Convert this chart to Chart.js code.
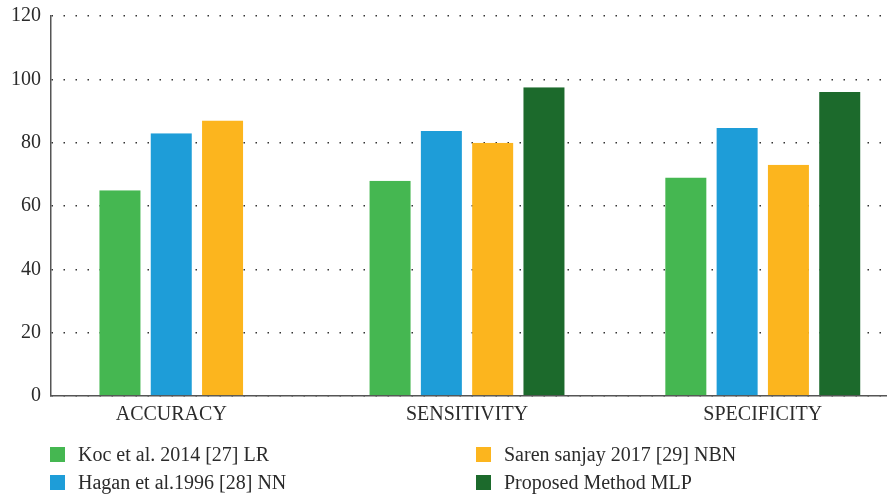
<!DOCTYPE html>
<html>
<head>
<meta charset="utf-8">
<script src="https://cdn.jsdelivr.net/npm/chart.js@4"></script>
<style>
  html, body { margin: 0; padding: 0; background: #ffffff; }
  #wrap { position: relative; width: 887px; height: 494px; }
  #c { position: absolute; left: 0; top: 0; }
  .leg { position: absolute; font-family: 'Liberation Serif', 'DejaVu Serif', serif; font-size: 20px; color: #2b2b2b; }
  .item { position: absolute; display: flex; align-items: center; height: 28px; white-space: nowrap; }
  .sw { width: 15px; height: 15px; margin-right: 13px; flex: none; }
</style>
</head>
<body>
<div id="wrap">
  <canvas id="c" width="887" height="494"></canvas>
  <div id="legend" class="leg"></div>
</div>
<script>
// ---- data ----
const categories = ['ACCURACY', 'SENSITIVITY', 'SPECIFICITY'];
const seriesNames = ['Koc et al. 2014 [27] LR', 'Hagan et al.1996 [28] NN', 'Saren sanjay 2017 [29] NBN', 'Proposed Method MLP'];
const kocLR = [65, 68, 69];
const haganNN = [83, 83.7, 84.6];
const sarenNBN = [87, 80, 73];
const proposedMLP = [null, 97.5, 96];
const yTicks = [0, 20, 40, 60, 80, 100, 120];

const colors = ['#45B751', '#1E9DD8', '#FCB51E', '#1C6A2C'];
const seriesValues = [kocLR, haganNN, sarenNBN, proposedMLP];

const FONT = "'Liberation Serif', 'DejaVu Serif', serif";

const datasets = seriesValues.map((vals, s) => ({
  label: seriesNames[s],
  data: vals.map((v, i) => ({ x: i, y: v })),
  backgroundColor: colors[s],
  borderColor: 'rgba(0,0,0,0)',
  borderWidth: { top: 0, bottom: 0, left: 5.15, right: 5.15 },
  borderSkipped: false,
  inflateAmount: 0,
  barThickness: 51.3,
  skipNull: true
}));

new Chart(document.getElementById('c'), {
  type: 'bar',
  data: { datasets },
  options: {
    responsive: false,
    animation: false,
    devicePixelRatio: 1,
    layout: { padding: { left: 0, right: 0, top: 16, bottom: 0 } },
    plugins: { legend: { display: false }, tooltip: { enabled: false } },
    scales: {
      x: {
        type: 'linear',
        bounds: 'data',
        offset: false,
        min: -0.4066,
        max: 2.42,
        afterFit: (s) => { s.height = 98; s.paddingLeft = 0; s.paddingRight = 0; },
        afterBuildTicks: (s) => { s.ticks = categories.map((c, i) => ({ value: i })); },
        grid: { display: false, drawTicks: false, offset: false },
        border: { display: true, color: '#555', width: 1.5 },
        ticks: {
          autoSkip: false,
          maxRotation: 0,
          padding: 7,
          color: '#2b2b2b',
          font: { family: FONT, size: 20 },
          callback: (v) => categories[v] !== undefined ? categories[v] : ''
        }
      },
      y: {
        min: 0,
        max: 120,
        afterFit: (s) => { s.width = 51; s.paddingTop = 0; s.paddingBottom = 0; },
        afterBuildTicks: (s) => { s.ticks = yTicks.map(v => ({ value: v })); },
        grid: {
          color: '#333',
          lineWidth: 1.5,
          drawTicks: false
        },
        border: { display: true, color: '#555', width: 1.5, dash: [1.5, 10.5] },
        ticks: {
          padding: 10,
          color: '#2b2b2b',
          font: { family: FONT, size: 20 }
        }
      }
    }
  }
});

// HTML legend (two columns, column-major order)
const legend = document.getElementById('legend');
const pos = [[50, 440], [50, 468], [476, 440], [476, 468]];
seriesNames.forEach((name, i) => {
  const it = document.createElement('div');
  it.className = 'item';
  it.style.left = pos[i][0] + 'px';
  it.style.top = pos[i][1] + 'px';
  const sw = document.createElement('span');
  sw.className = 'sw';
  sw.style.background = colors[i];
  const tx = document.createElement('span');
  tx.textContent = name;
  it.appendChild(sw);
  it.appendChild(tx);
  legend.appendChild(it);
});
</script>
</body>
</html>
